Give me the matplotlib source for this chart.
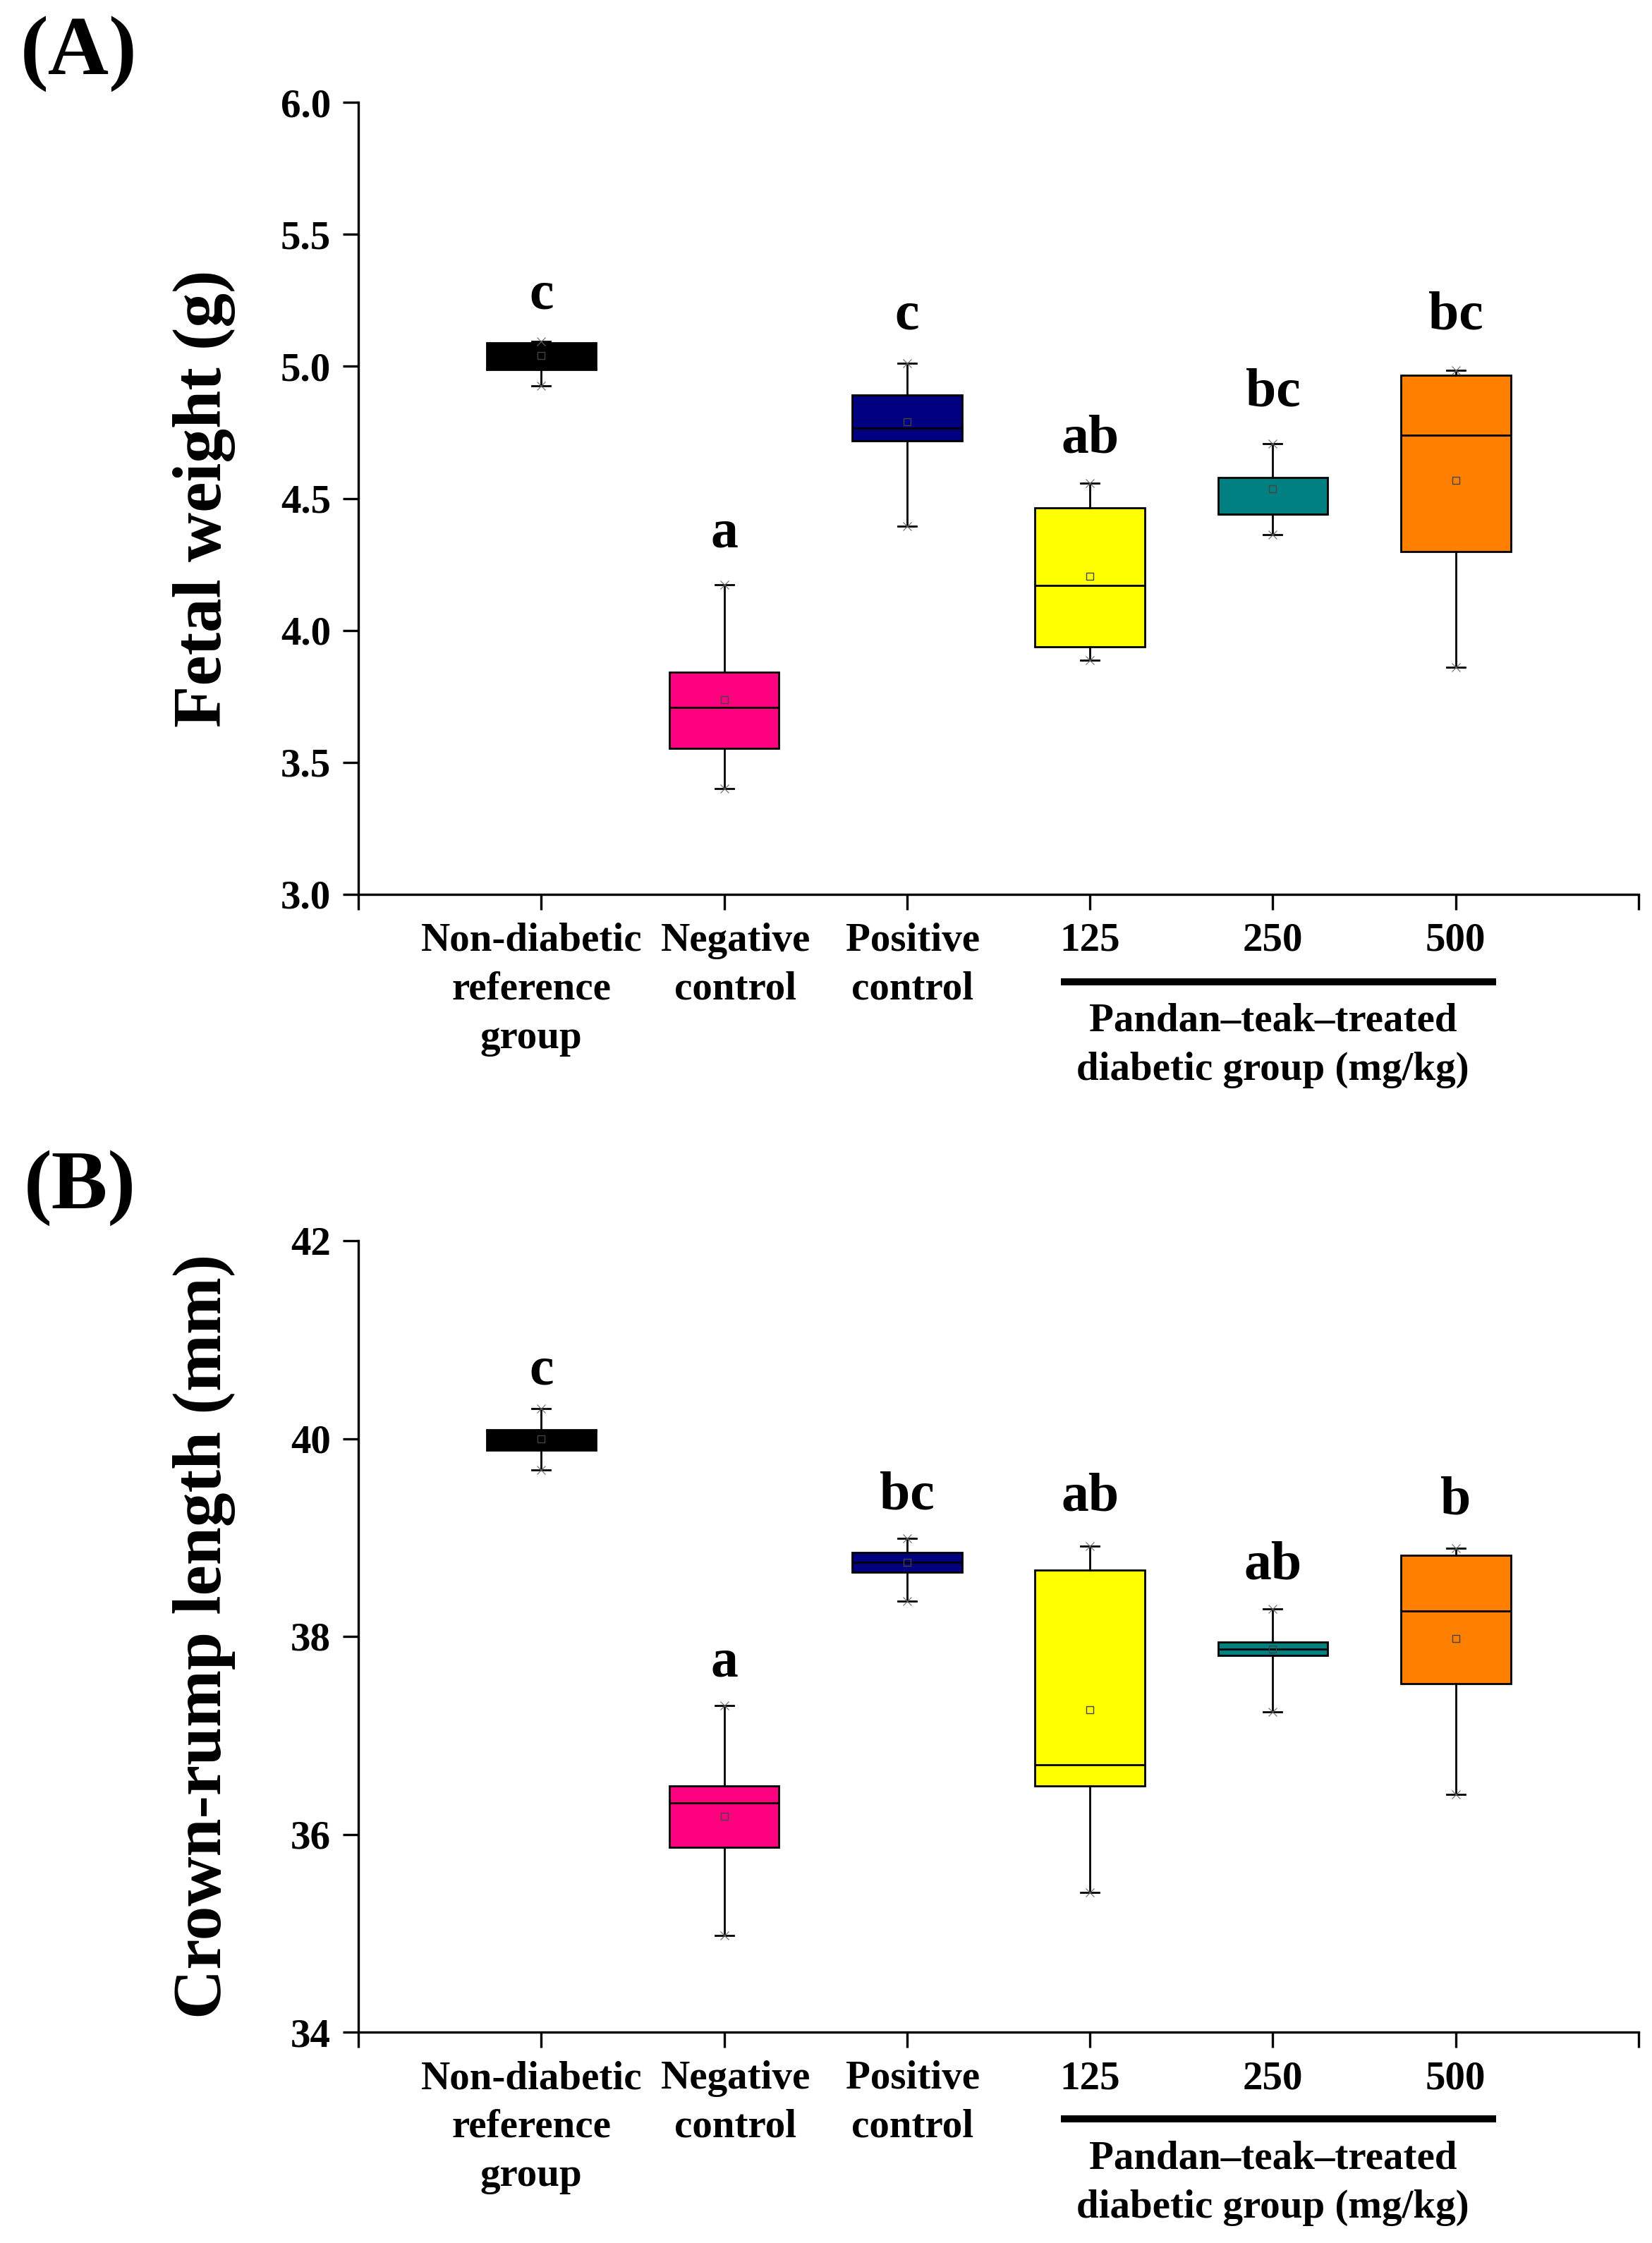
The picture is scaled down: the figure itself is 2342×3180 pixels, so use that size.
import matplotlib
matplotlib.use('Agg')
import matplotlib.pyplot as plt
from matplotlib.transforms import blended_transform_factory, ScaledTranslation

plt.rcParams['font.family'] = ['Liberation Serif', 'DejaVu Serif']
plt.rcParams['font.weight'] = 'bold'

# categories and colours
groups = ['Non-diabetic\nreference\ngroup', 'Negative\ncontrol', 'Positive\ncontrol',
          '125', '250', '500']
box_colors = ['#000000', '#FF0080', '#000080', '#FFFF00', '#008080', '#FF8000']

# (A) fetal weight (g)
fw_low = [4.925, 3.40, 4.395, 3.887, 4.362, 3.861]
fw_q1 = [4.987, 3.553, 4.718, 3.938, 4.440, 4.299]
fw_med = [5.040, 3.709, 4.767, 4.170, 4.440, 4.740]
fw_q3 = [5.088, 3.841, 4.891, 4.464, 4.580, 4.967]
fw_high = [5.095, 4.172, 5.011, 4.557, 4.707, 4.985]
fw_mean = [5.040, 3.736, 4.790, 4.205, 4.536, 4.569]
fw_letters = ['c', 'a', 'c', 'ab', 'bc', 'bc']
fw_letter_y = [5.219, 4.315, 5.141, 4.673, 4.851, 5.141]

# (B) crown-rump length (mm)
cr_low = [39.68, 34.98, 38.36, 35.41, 37.24, 36.40]
cr_q1 = [39.885, 35.87, 38.65, 36.49, 37.81, 37.52]
cr_med = [40.00, 36.32, 38.75, 36.70, 37.87, 38.26]
cr_q3 = [40.09, 36.49, 38.85, 38.67, 37.94, 38.82]
cr_high = [40.30, 37.30, 38.99, 38.91, 38.28, 38.89]
cr_mean = [40.00, 36.18, 38.75, 37.26, 37.87, 37.98]
cr_letters = ['c', 'a', 'bc', 'ab', 'ab', 'b']
cr_letter_y = [40.55, 37.60, 39.29, 39.27, 38.58, 39.24]

# small horizontal nudges of the category labels (pixels), as in the original
label_shift = [-14, 16, 8, 0, 0, 0]

W, H = 2342, 3180
fig = plt.figure(figsize=(W / 100, H / 100), dpi=100)

ax_left = 508 / W
ax_w = (2323 - 508) / W
axA = fig.add_axes([ax_left, 1 - 1268 / H, ax_w, 1123 / H])
axB = fig.add_axes([ax_left, 1 - 2881 / H, ax_w, 1122 / H])


def draw_panel(ax, low, q1, med, q3, high, mean, letters, letter_y,
               ylim, yticks, yfmt, ylabel):
    pos = list(range(1, len(groups) + 1))
    stats = []
    for i in range(len(groups)):
        stats.append({'whislo': low[i], 'q1': q1[i], 'med': med[i], 'q3': q3[i],
                      'whishi': high[i], 'mean': mean[i], 'fliers': []})
    bp = ax.bxp(stats, positions=pos, widths=0.6, patch_artist=True,
                showmeans=True, capwidths=0.1, manage_ticks=False,
                boxprops=dict(linewidth=2.0, edgecolor='black'),
                whiskerprops=dict(linewidth=2.0, color='black'),
                capprops=dict(linewidth=2.0, color='black'),
                medianprops=dict(linewidth=2.0, color='black'),
                meanprops=dict(marker='s', markersize=6.5, markerfacecolor='none',
                               markeredgecolor='#444444', markeredgewidth=1.0))
    for patch, c in zip(bp['boxes'], box_colors):
        patch.set_facecolor(c)
    # small x markers at whisker ends
    ax.plot(pos, low, linestyle='none', marker='x', markersize=9,
            markeredgewidth=0.8, color='#666666', zorder=4)
    ax.plot(pos, high, linestyle='none', marker='x', markersize=9,
            markeredgewidth=0.8, color='#666666', zorder=4)

    for x, s, y in zip(pos, letters, letter_y):
        ax.text(x, y, s, ha='center', va='baseline', fontsize=56, fontweight='bold')

    ax.set_xlim(0, 7)
    ax.set_ylim(*ylim)
    ax.set_yticks(yticks)
    ax.set_yticklabels([yfmt % v for v in yticks])
    ax.set_xticks(range(0, 8))
    ax.set_xticklabels([])
    for sp in ['top', 'right']:
        ax.spines[sp].set_visible(False)
    for sp in ['left', 'bottom']:
        ax.spines[sp].set_linewidth(2.4)
    ax.tick_params(axis='both', direction='out', length=16, width=2.4, labelsize=41)
    ax.tick_params(axis='y', pad=12)
    ax.set_ylabel(ylabel, fontsize=70, fontweight='bold')
    ax.yaxis.set_label_coords(-0.096, 0.5)

    # category labels under the axis
    tr = blended_transform_factory(ax.transData, ax.transAxes)
    for x, s, dx in zip(pos, groups, label_shift):
        off = ScaledTranslation(dx / 100, -40 / 100, fig.dpi_scale_trans)
        ax.text(x, 0, s, ha='center', va='top', fontsize=41, fontweight='bold',
                linespacing=1.42, transform=tr + off)

    # bracket for the treated groups
    ax.plot([3.84, 6.22], [-0.11, -0.11], color='black', linewidth=7.2,
            solid_capstyle='butt', transform=tr, clip_on=False)
    ax.text(5.0, -0.191, 'Pandan\u2013teak\u2013treated\ndiabetic group (mg/kg)',
            ha='center', va='center', fontsize=41, fontweight='bold',
            linespacing=1.42, transform=tr)


draw_panel(axA, fw_low, fw_q1, fw_med, fw_q3, fw_high, fw_mean, fw_letters, fw_letter_y,
           (3.0, 6.0), [3.0, 3.5, 4.0, 4.5, 5.0, 5.5, 6.0], '%.1f', 'Fetal weight (g)')
draw_panel(axB, cr_low, cr_q1, cr_med, cr_q3, cr_high, cr_mean, cr_letters, cr_letter_y,
           (34, 42), [34, 36, 38, 40, 42], '%d', 'Crown-rump length (mm)')

fig.text(29 / W, 1 - 22 / H, '(A)', ha='left', va='top', fontsize=86, fontweight='bold')
fig.text(34 / W, 1 - 1630 / H, '(B)', ha='left', va='top', fontsize=86, fontweight='bold')

fig.savefig('out.png', dpi=100)
